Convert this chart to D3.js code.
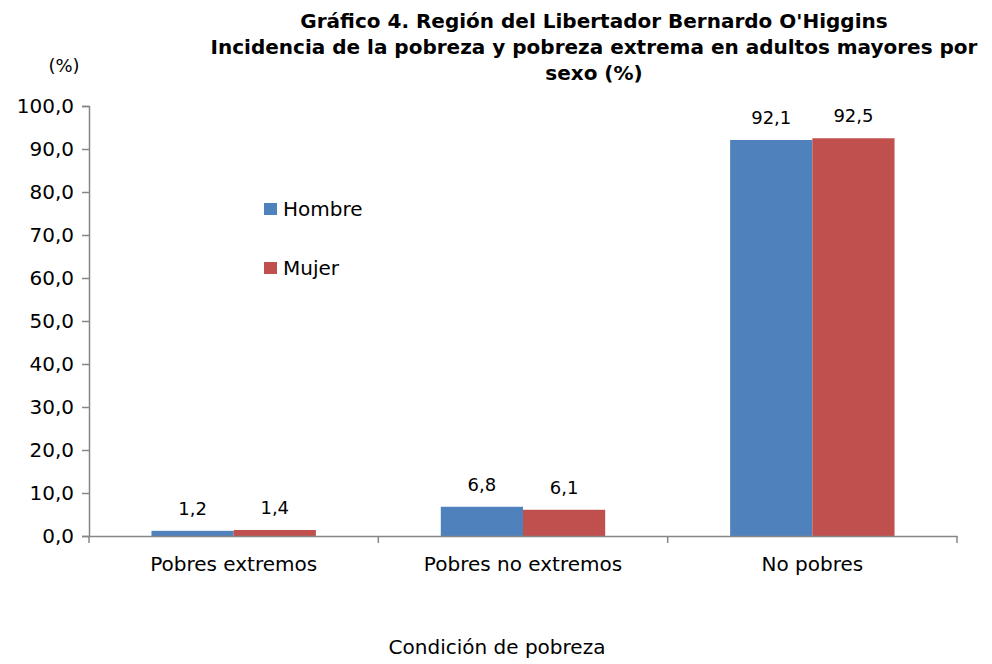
<!DOCTYPE html>
<html>
<head>
<meta charset="utf-8">
<script src="https://cdn.jsdelivr.net/npm/d3@7"></script>
<style>
  html, body { margin: 0; padding: 0; background: #fff; }
  svg { display: block; font-family: "DejaVu Sans", Verdana, sans-serif; }
</style>
</head>
<body>
<svg id="chart" width="992" height="664"></svg>
<script>
const categories = ["Pobres extremos", "Pobres no extremos", "No pobres"];
const seriesNames = ["Hombre", "Mujer"];
const hombre = [1.2, 6.8, 92.1];
const mujer = [1.4, 6.1, 92.5];
const yTicks = [0, 10, 20, 30, 40, 50, 60, 70, 80, 90, 100];
const colors = ["#4F81BD", "#C0504D"];
const titleLines = [
    "Gráfico 4. Región del Libertador Bernardo O'Higgins",
    "Incidencia de la pobreza y pobreza extrema en adultos mayores por",
    "sexo (%)"
];

const fmt = v => d3.format(".1f")(v).replace(".", ",");
const svg = d3.select("#chart");
const M = { left: 89, right: 957, top: 106, bottom: 536 };
const axisCol = "#868686";

const x = d3.scaleBand().domain(categories).range([M.left, M.right]).paddingInner(0).paddingOuter(0);
const xs = d3.scaleBand().domain(seriesNames).range([0, x.bandwidth()]).paddingInner(0).paddingOuter(0.76);
const y = d3.scaleLinear().domain([0, 100]).range([M.bottom, M.top]);

// title
const title = svg.append("text").attr("text-anchor", "middle").attr("font-weight", "bold")
    .attr("font-size", 20).attr("fill", "#000");
titleLines.forEach((t, i) => title.append("tspan").attr("x", 594).attr("y", 28 + i * 26).text(t));

svg.append("text").attr("x", 64).attr("y", 72).attr("text-anchor", "middle")
    .attr("font-size", 18).text("(%)");

// y axis
const ya = svg.append("g").attr("transform", `translate(${M.left},0)`)
    .call(d3.axisLeft(y).tickValues(yTicks).tickFormat(fmt).tickSize(7).tickPadding(8))
    .attr("font-family", null).attr("font-size", 20);
ya.select(".domain").attr("stroke", axisCol).attr("stroke-width", 1.5);
ya.selectAll(".tick line").attr("stroke", axisCol).attr("stroke-width", 1.5);
ya.selectAll(".tick text").attr("fill", "#000");

// bars
const data = categories.map((c, i) => ({ cat: c, vals: [hombre[i], mujer[i]] }));
const grp = svg.append("g").selectAll("g").data(data).join("g")
    .attr("transform", d => `translate(${x(d.cat)},0)`);
grp.selectAll("rect").data(d => d.vals.map((v, j) => ({ s: seriesNames[j], v, j }))).join("rect")
    .attr("x", d => xs(d.s)).attr("width", xs.bandwidth())
    .attr("y", d => y(d.v)).attr("height", d => y(0) - y(d.v))
    .attr("fill", d => colors[d.j]);
grp.selectAll("text.val").data(d => d.vals.map((v, j) => ({ s: seriesNames[j], v, j }))).join("text")
    .attr("class", "val").attr("x", d => xs(d.s) + xs.bandwidth() / 2).attr("y", d => y(d.v) - 16)
    .attr("text-anchor", "middle").attr("font-size", 18).text(d => fmt(d.v));

// x axis
const xa = svg.append("g").attr("transform", `translate(0,${M.bottom})`)
    .call(d3.axisBottom(x).tickSize(0).tickPadding(21))
    .attr("font-family", null).attr("font-size", 20);
xa.select(".domain").attr("stroke", axisCol).attr("stroke-width", 1.5);
xa.selectAll(".tick text").attr("fill", "#000");
xa.selectAll("line.sep").data([M.left, ...categories.map(c => x(c) + x.bandwidth())]).join("line")
    .attr("class", "sep").attr("x1", d => d).attr("x2", d => d).attr("y1", 0).attr("y2", 7)
    .attr("stroke", axisCol).attr("stroke-width", 1.5);

svg.append("text").attr("x", 497).attr("y", 654).attr("text-anchor", "middle")
    .attr("font-size", 20).text("Condición de pobreza");

// legend
const lg = svg.append("g").selectAll("g").data(seriesNames).join("g")
    .attr("transform", (d, i) => `translate(264,${203 + i * 59})`);
lg.append("rect").attr("width", 13).attr("height", 12).attr("fill", (d, i) => colors[i]);
lg.append("text").attr("x", 19).attr("y", 13).attr("font-size", 20).text(d => d);
</script>
</body>
</html>
